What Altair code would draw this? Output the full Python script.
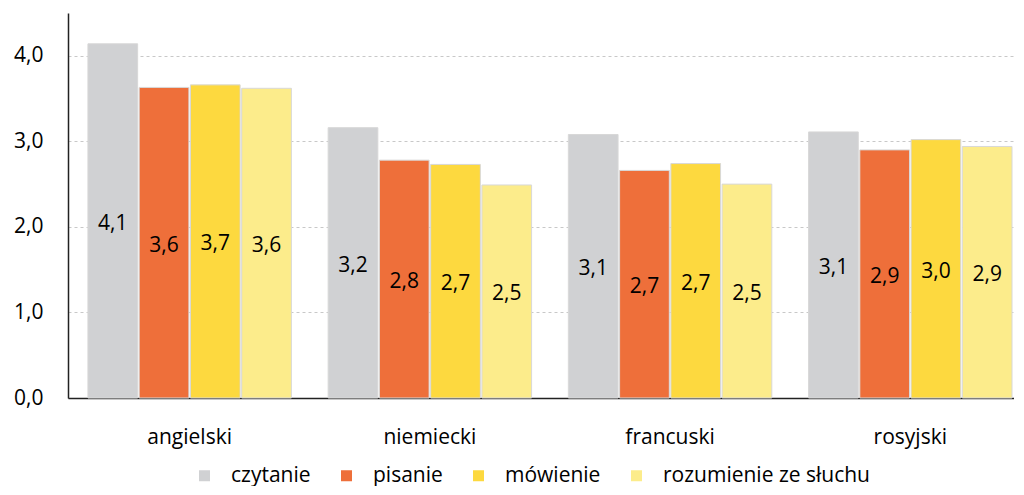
import altair as alt
import pandas as pd

languages = ["angielski", "niemiecki", "francuski", "rosyjski"]
skills = ["czytanie", "pisanie", "mówienie", "rozumienie ze słuchu"]
czytanie = [4.14, 3.16, 3.08, 3.11]
pisanie = [3.63, 2.78, 2.66, 2.90]
mowienie = [3.66, 2.73, 2.74, 3.02]
rozumienie = [3.62, 2.49, 2.50, 2.94]
colors = ["#D0D1D3", "#EE6F3A", "#FDD93F", "#FCEC8B"]
y_ticks = [0, 1, 2, 3, 4]

rows = []
for skill, vals in zip(skills, [czytanie, pisanie, mowienie, rozumienie]):
    for lang, v in zip(languages, vals):
        rows.append({"lang": lang, "skill": skill, "value": v})
df = pd.DataFrame(rows)

FONT = "Open Sans"
FS = 21

base = alt.Chart(df).encode(
    x=alt.X(
        "lang:N",
        sort=languages,
        scale=alt.Scale(paddingInner=0.153, paddingOuter=0.0456, align=0.91),
        axis=alt.Axis(
            title=None, labelAngle=0, ticks=False, labelFontSize=FS,
            labelPadding=28, labelColor="black", labelFont=FONT,
            domainColor="#222222", domainWidth=1.5, grid=False,
        ),
    ),
    xOffset=alt.XOffset(
        "skill:N", sort=skills, scale=alt.Scale(paddingInner=0.03, paddingOuter=0)
    ),
)

bars = base.mark_bar(stroke="#d8d8d8", strokeWidth=1).encode(
    y=alt.Y(
        "value:Q",
        scale=alt.Scale(domain=[0, 4.5], nice=False),
        axis=alt.Axis(
            values=y_ticks,
            labelExpr="replace(format(datum.value, '.1f'), '.', ',')",
            title=None, ticks=False, gridDash=[3, 3], gridColor="#c8c8c8",
            labelFontSize=FS, labelPadding=25, labelColor="black", labelFont=FONT,
            domainColor="#222222", domainWidth=1.5,
        ),
    ),
    color=alt.Color(
        "skill:N",
        sort=skills,
        scale=alt.Scale(domain=skills, range=colors),
        legend=alt.Legend(
            title=None, orient="none", legendX=126, legendY=452,
            direction="horizontal", symbolType="square", symbolSize=121,
            symbolStrokeWidth=0, labelFontSize=FS, labelFont=FONT,
            labelColor="black", labelOffset=16, columnPadding=25, padding=0,
            labelLimit=0,
        ),
    ),
)

text = base.transform_calculate(
    mid="datum.value / 2",
    lab="replace(format(datum.value, '.1f'), '.', ',')",
).mark_text(fontSize=FS, font=FONT, color="black", dy=3).encode(
    y=alt.Y("mid:Q"),
    text=alt.Text("lab:N"),
)

chart = (
    alt.layer(bars, text)
    .properties(width=946, height=385, padding={"left": 5, "top": 5, "right": 0, "bottom": 0})
    .configure_view(stroke=None)
)

chart.save("out.html", embed_options={"renderer": "svg", "actions": False})
